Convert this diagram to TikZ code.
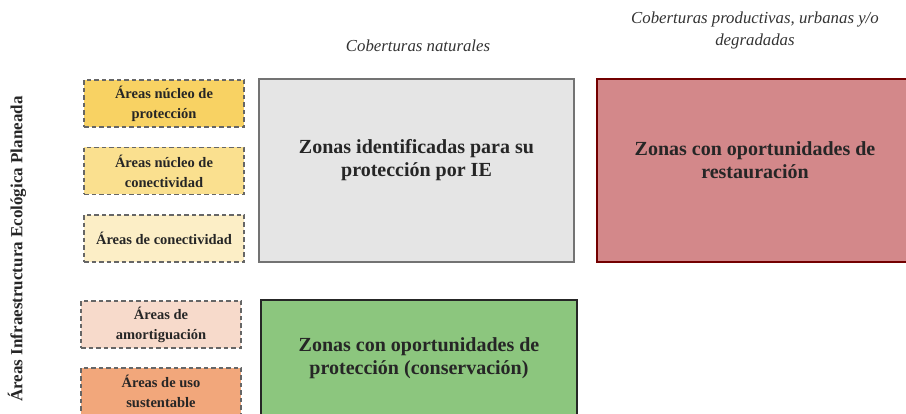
\documentclass[tikz,border=0pt]{standalone}
\usepackage{fontspec}
\setmainfont{Liberation Serif}
\usetikzlibrary{positioning}

\definecolor{nucprot}{HTML}{F8D263}
\definecolor{nuccon}{HTML}{FAE08F}
\definecolor{conect}{HTML}{FCEEC6}
\definecolor{amort}{HTML}{F7DACB}
\definecolor{usosus}{HTML}{F2A77B}
\definecolor{grisz}{HTML}{E5E5E5}
\definecolor{rojoz}{HTML}{D3888A}
\definecolor{verdez}{HTML}{8CC67E}

\begin{document}
\begin{tikzpicture}[
    x=1pt, y=-1pt,
    area/.style={draw=black!60, dash pattern=on 4.5pt off 3pt, line width=1.3pt, minimum width=160pt, minimum height=47pt, align=center, font=\fontsize{14.5}{20}\selectfont\bfseries, text=black!85},
    zona/.style={line width=1.6pt, align=center, font=\fontsize{20}{22.5}\selectfont\bfseries, text=black!85},
    cober/.style={align=center, font=\fontsize{16.8}{22}\selectfont\itshape, text=black!80}
]
\useasboundingbox (0,0) rectangle (906,414);
\clip (0,0) rectangle (906,414);

% Eje vertical
\node[rotate=90, font=\fontsize{17}{20}\selectfont\bfseries, text=black!85] (eje) at (17,249) {Áreas Infraestructura Ecológica Planeada};

% Encabezados
\node[cober] (nat) at (418,46) {Coberturas naturales};
\node[cober] (prod) at (755,30) {Coberturas productivas, urbanas y/o\\degradadas};

% Areas
\node[area, fill=nucprot] (a1) at (164,103.5) {Áreas núcleo de\\protección};
\node[area, fill=nuccon] (a2) at (164,171) {Áreas núcleo de\\conectividad};
\node[area, fill=conect] (a3) at (164,238.5) {Áreas de conectividad};
\node[area, fill=amort] (a4) at (161,324.5) {Áreas de\\amortiguación};
\node[area, fill=usosus] (a5) at (161,391.5) {Áreas de uso\\sustentable};

% Zonas
\draw[zona, draw=black!55, fill=grisz] (259,79) rectangle (574,262);
\node[zona] (zprot) at (416.5,160) {Zonas identificadas para su\\protección por IE};
\draw[zona, draw=red!45!black, fill=rojoz] (597,79) rectangle (930,262);
\node[zona] (zrest) at (755,160) {Zonas con oportunidades de\\restauración};
\draw[zona, draw=black!85, fill=verdez] (261,300) rectangle (577,440);
\node[zona] (zcons) at (419,358) {Zonas con oportunidades de\\protección (conservación)};

\end{tikzpicture}
\end{document}
